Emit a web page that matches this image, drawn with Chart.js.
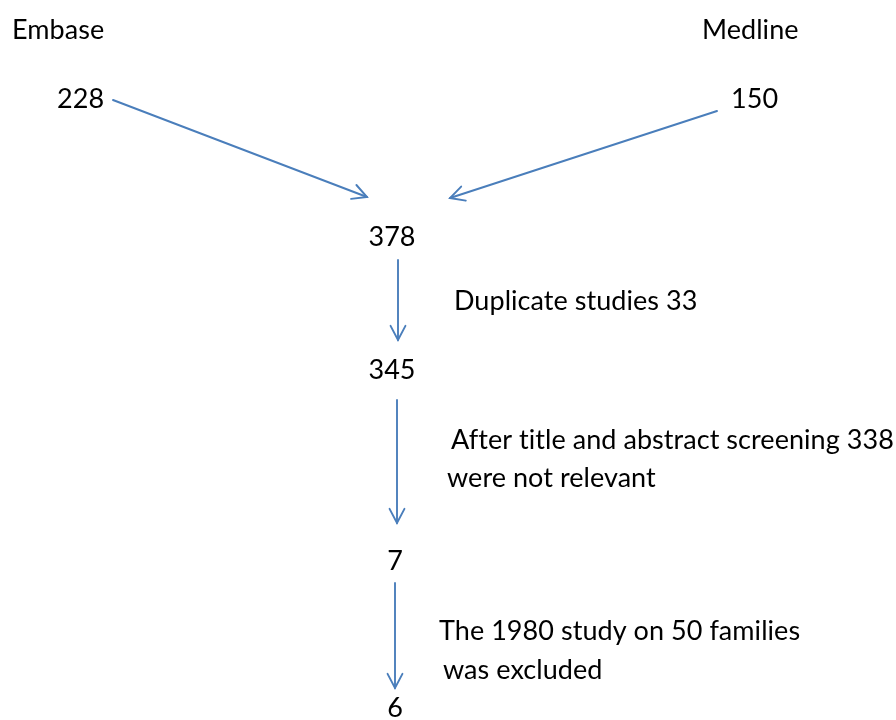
<!DOCTYPE html>
<html><head><meta charset="utf-8">
<script src="https://cdn.jsdelivr.net/npm/chart.js@4"></script>
<style>html,body{margin:0;padding:0;background:#fff}#wrap{width:896px;height:720px}</style>
</head><body><div id="wrap"><canvas id="c" width="896" height="720"></canvas></div>
<script>
// Data
const sources = ['Embase', 'Medline'];
const sourceCounts = [228, 150];
const stageCounts = [378, 345, 7, 6];
const stepNotes = [
  ['Duplicate studies 33'],
  ['After title and abstract screening 338', 'were not relevant'],
  ['The 1980 study on 50 families', 'was excluded']
];

// Layout (pixel-space positions on a 0..896 x 0..720 canvas scale)
const layout = {
  sourceLabels: [{x: 12, y: 30, align: 'left'}, {x: 702, y: 30, align: 'left'}],
  sourceCounts: [{x: 57, y: 99, align: 'left'}, {x: 731, y: 99, align: 'left'}],
  stageCounts: [{x: 392, y: 237}, {x: 392, y: 370}, {x: 395, y: 561}, {x: 395, y: 708}],
  notes: [
    [{x: 454, y: 301}],
    [{x: 451, y: 440}, {x: 447, y: 478}],
    [{x: 439, y: 631}, {x: 443, y: 670}]
  ],
  arrows: [
    {x1: 113, y1: 100, x2: 367, y2: 197},
    {x1: 717, y1: 111, x2: 450, y2: 198},
    {x1: 398, y1: 260, x2: 398, y2: 340},
    {x1: 397, y1: 400, x2: 397, y2: 523},
    {x1: 395, y1: 583, x2: 395, y2: 688}
  ]
};
const FONT = '27px Lato, "Open Sans", sans-serif';
const BLUE = '#4a7ebb';

const flowPlugin = {
  id: 'flow',
  afterDraw(chart) {
    const {ctx, scales: {x, y}} = chart;
    const px = v => x.getPixelForValue(v), py = v => y.getPixelForValue(v);
    ctx.save();
    ctx.font = FONT; ctx.fillStyle = '#000'; ctx.textBaseline = 'middle';
    if ('letterSpacing' in ctx) ctx.letterSpacing = '0.05px';
    sources.forEach((s, i) => {
      const p = layout.sourceLabels[i]; ctx.textAlign = p.align; ctx.fillText(s, px(p.x), py(p.y));
      const q = layout.sourceCounts[i]; ctx.textAlign = q.align; ctx.fillText(String(sourceCounts[i]), px(q.x), py(q.y));
    });
    ctx.textAlign = 'center';
    stageCounts.forEach((c, i) => { const p = layout.stageCounts[i]; ctx.fillText(String(c), px(p.x), py(p.y)); });
    ctx.textAlign = 'left';
    stepNotes.forEach((lines, i) => lines.forEach((t, j) => { const p = layout.notes[i][j]; ctx.fillText(t, px(p.x), py(p.y)); }));
    ctx.strokeStyle = BLUE; ctx.lineWidth = 1.9; ctx.lineCap = 'round'; ctx.lineJoin = 'miter';
    layout.arrows.forEach(a => {
      const x1 = px(a.x1), y1 = py(a.y1), x2 = px(a.x2), y2 = py(a.y2);
      ctx.beginPath(); ctx.moveTo(x1, y1); ctx.lineTo(x2, y2); ctx.stroke();
      const ang = Math.atan2(y2 - y1, x2 - x1), L = 16, w = Math.PI / 6.5;
      ctx.beginPath();
      ctx.moveTo(x2 - L * Math.cos(ang - w), y2 - L * Math.sin(ang - w));
      ctx.lineTo(x2, y2);
      ctx.lineTo(x2 - L * Math.cos(ang + w), y2 - L * Math.sin(ang + w));
      ctx.stroke();
    });
    ctx.restore();
  }
};

new Chart(document.getElementById('c'), {
  type: 'scatter',
  data: { datasets: [{ data: [], pointRadius: 0 }] },
  options: {
    responsive: false, animation: false,
    layout: { padding: 0 },
    plugins: { legend: { display: false }, tooltip: { enabled: false } },
    scales: {
      x: { type: 'linear', min: 0, max: 896, display: false },
      y: { type: 'linear', min: 0, max: 720, reverse: true, display: false }
    }
  },
  plugins: [flowPlugin]
});
</script></body></html>
